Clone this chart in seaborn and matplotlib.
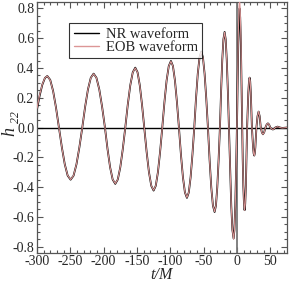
import numpy as np
import pandas as pd
import matplotlib
matplotlib.use("Agg")
import matplotlib.pyplot as plt
from matplotlib.ticker import MultipleLocator
import seaborn as sns

# time samples t/M
t = [-300, -296, -292, -288, -284.5, -280.1, -275.75, -271.4,
     -267, -262.6, -258.25, -253.9, -249.5, -245.1, -240.75, -236.4,
     -232, -227.75, -223.5, -219.25, -215, -210.75, -206.5, -202.25,
     -198, -194.1, -190.25, -186.4, -182.5, -178.75, -175, -171.25,
     -167.5, -163.75, -160, -156.25, -152.5, -149.1, -145.75, -142.4,
     -139, -135.5, -132, -128.5, -125, -121.75, -118.5, -115.25,
     -112, -108.75, -105.5, -102.25, -99, -96, -93, -90,
     -87, -84, -81, -78, -75, -72.25, -69.5, -66.75,
     -64, -61.4, -58.75, -56.1, -53.5, -51, -48.5, -46,
     -43.5, -41, -38.5, -36, -33.5, -31.5, -29.5, -27.5,
     -25.5, -23.75, -22, -20.25, -18.5, -16.9, -15.25, -13.6,
     -12, -10.25, -8.5, -6.75, -5, -3.75, -2.5, -1.25,
     0, 1, 2, 3, 4, 4.9, 5.9, 6.8,
     7.75, 8.7, 9.6, 10.6, 11.5, 12.4, 13.4, 14.3,
     15.25, 16.2, 17.1, 18.1, 19, 19.9, 20.75, 21.6,
     22.5, 23.4, 24.25, 25.1, 26, 26.8, 27.6, 28.4,
     29.25, 30.9, 32.5, 34.1,
     35.75, 37.4, 39, 40.9,
     42.75, 44.6, 46.5, 48.25,
     50, 52, 54, 55.75,
     57.5, 61, 64.5, 68, 75]

# NR waveform h22
nr_h = [0.12, 0.213, 0.287, 0.333, 0.346, 0.320, 0.245, 0.133,
        0, -0.134, -0.247, -0.323, -0.35, -0.323, -0.247, -0.134,
        0, 0.139, 0.256, 0.334, 0.362, 0.334, 0.256, 0.139,
        0, -0.145, -0.267, -0.349, -0.378, -0.349, -0.267, -0.145,
        0, 0.154, 0.284, 0.371, 0.402, 0.371, 0.284, 0.154,
        0, -0.162, -0.299, -0.391, -0.423, -0.391, -0.299, -0.162,
        0, 0.171, 0.316, 0.413, 0.447, 0.413, 0.316, 0.171,
        0, -0.181, -0.334, -0.436, -0.472, -0.436, -0.334, -0.181,
        0, 0.195, 0.361, 0.471, 0.51, 0.471, 0.361, 0.195,
        0, -0.217, -0.401, -0.524, -0.567, -0.524, -0.401, -0.217,
        0, 0.246, 0.454, 0.593, 0.642, 0.593, 0.454, 0.246,
        0, -0.285, -0.527, -0.688, -0.745, -0.688, -0.527, -0.285,
        0, 0.306, 0.566, 0.739, 0.80, 0.739, 0.566, 0.306,
        0, -0.213, -0.392, -0.513, -0.555, -0.513, -0.392, -0.213,
        0, 0.128, 0.237, 0.31, 0.335, 0.31, 0.237, 0.128,
        0, -0.072, -0.133, -0.174, -0.188, -0.174, -0.133, -0.072,
        0, 0.076, 0.107, 0.076,
        0, -0.032, -0.045, -0.032,
        0, 0.02, 0.028, 0.02,
        0, -0.009, -0.013, -0.009,
        0, 0.006, 0, -0.003, 0]

# EOB waveform h22
eob_h = [0.13, 0.218, 0.289, 0.334, 0.346, 0.319, 0.243, 0.131,
         0, -0.135, -0.248, -0.322, -0.349, -0.322, -0.246, -0.133,
         0, 0.140, 0.257, 0.333, 0.361, 0.333, 0.255, 0.138,
         0, -0.146, -0.268, -0.348, -0.376, -0.348, -0.266, -0.144,
         0, 0.155, 0.285, 0.370, 0.400, 0.370, 0.283, 0.153,
         0, -0.163, -0.300, -0.390, -0.421, -0.390, -0.298, -0.161,
         0, 0.172, 0.317, 0.412, 0.445, 0.412, 0.315, 0.170,
         0, -0.182, -0.335, -0.435, -0.470, -0.435, -0.333, -0.180,
         0, 0.196, 0.362, 0.470, 0.508, 0.470, 0.360, 0.194,
         0, -0.218, -0.402, -0.523, -0.565, -0.523, -0.400, -0.216,
         0, 0.247, 0.455, 0.592, 0.640, 0.592, 0.453, 0.245,
         0, -0.286, -0.528, -0.690, -0.748, -0.690, -0.528, -0.286,
         0, 0.329, 0.608, 0.795, 0.86, 0.795, 0.608, 0.329,
         0, -0.214, -0.393, -0.514, -0.556, -0.514, -0.393, -0.214,
         0, 0.129, 0.238, 0.311, 0.336, 0.311, 0.238, 0.129,
         0, -0.073, -0.134, -0.175, -0.189, -0.175, -0.134, -0.073,
         0, 0.077, 0.108, 0.077,
         0, -0.033, -0.046, -0.033,
         0, 0.02, 0.028, 0.02,
         0, -0.009, -0.013, -0.009,
         0, 0.006, 0, -0.003, 0]

labels = ["NR waveform", "EOB waveform"]
colors = ["black", "#dc9696"]

sns.set_style("ticks")
plt.rcParams["font.family"] = ["Liberation Serif", "DejaVu Serif"]

fig = plt.figure(figsize=(2.91, 2.82), dpi=100)
ax = fig.add_axes([0.127, 0.104, 0.859, 0.890])

ax.axhline(0, color="black", lw=1.0, zorder=1)
ax.axvline(0, color="#777777", lw=1.3, zorder=1)

sns.lineplot(x=t, y=nr_h, color=colors[0], lw=1.3, label=labels[0],
             estimator=None, ax=ax, zorder=2)
sns.lineplot(x=t, y=eob_h, color=colors[1], lw=0.8, label=labels[1],
             estimator=None, ax=ax, zorder=3)

ax.set_xlim(-300, 75)
ax.set_ylim(-0.84, 0.845)
ax.xaxis.set_minor_locator(MultipleLocator(10))
ax.yaxis.set_minor_locator(MultipleLocator(0.05))
ax.set_xticks([-300, -250, -200, -150, -100, -50, 0, 50])
ax.set_xticklabels(["-300", "-250", "-200", "-150", "-100", "-50", "0", "50"])
ax.set_yticks([-0.8, -0.6, -0.4, -0.2, 0.0, 0.2, 0.4, 0.6, 0.8])
ax.set_yticklabels(["-0.8", "-0.6", "-0.4", "-0.2", "0.0", "0.2", "0.4", "0.6", "0.8"])
ax.tick_params(which="both", direction="in", top=True, right=True,
               labelsize=10, pad=2, width=0.8, color="#555555")
ax.tick_params(which="major", length=4)
ax.tick_params(which="minor", length=2)
for s in ax.spines.values():
    s.set_linewidth(0.9)
    s.set_color("#555555")

ax.set_xlabel("t/M", fontsize=11.5, fontstyle="italic")
ax.xaxis.set_label_coords(0.5, -0.058)

# y label h22 drawn as plain text: italic h with a smaller subscript
fig.text(10 / 291, 1 - 131 / 282, "h", rotation=90, fontsize=13,
         fontstyle="italic", ha="center", va="center")
fig.text(16 / 291, 1 - 117 / 282, "22", rotation=90, fontsize=8.5,
         fontstyle="italic", ha="center", va="center")

leg = ax.legend(loc="upper left", bbox_to_anchor=(0.13, 0.915), fontsize=10.5,
                frameon=True, fancybox=False, edgecolor="black",
                handlelength=1.7, handletextpad=0.5, labelspacing=0.0,
                borderpad=0.3, borderaxespad=0)
leg.get_frame().set_linewidth(0.8)
for line in leg.get_lines():
    line.set_linewidth(1.0)

fig.savefig("out.png", dpi=100)
